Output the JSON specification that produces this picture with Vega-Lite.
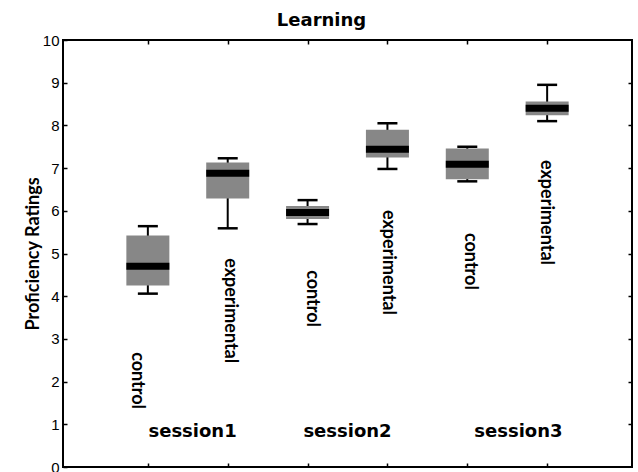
{
  "$schema": "https://vega.github.io/schema/vega-lite/v6.json",
  "width": 569,
  "height": 427,
  "autosize": "none",
  "padding": {"left": 63, "top": 40, "right": 6, "bottom": 5},
  "background": "white",
  "config": {
    "view": {"stroke": "black", "strokeWidth": 2},
    "axis": {"grid": false, "domain": false, "tickColor": "black", "tickSize": -4, "tickWidth": 1.5, "labelFont": "Liberation Sans", "labelFontSize": 15, "labelColor": "black"}
  },
  "title": {"text": "Learning", "font": "DejaVu Sans", "fontWeight": "bold", "fontSize": 18, "color": "black", "anchor": "middle", "frame": "group", "dx": -26, "offset": 3},
  "datasets": {
    "boxes": [
      {"pos": 1, "lo": 4.06, "q1": 4.25, "med": 4.70, "q3": 5.42, "hi": 5.64},
      {"pos": 2, "lo": 5.59, "q1": 6.29, "med": 6.88, "q3": 7.13, "hi": 7.23},
      {"pos": 3, "lo": 5.69, "q1": 5.81, "med": 5.96, "q3": 6.11, "hi": 6.25},
      {"pos": 4, "lo": 6.98, "q1": 7.25, "med": 7.44, "q3": 7.90, "hi": 8.05},
      {"pos": 5, "lo": 6.69, "q1": 6.74, "med": 7.09, "q3": 7.46, "hi": 7.50},
      {"pos": 6, "lo": 8.10, "q1": 8.24, "med": 8.40, "q3": 8.56, "hi": 8.95}
    ],
    "labels": [
      {"label": "control", "x": 0.87, "y": 2.69},
      {"label": "experimental", "x": 2.03, "y": 4.89},
      {"label": "control", "x": 3.06, "y": 4.61},
      {"label": "experimental", "x": 4.01, "y": 6.02},
      {"label": "control", "x": 5.03, "y": 5.48},
      {"label": "experimental", "x": 5.98, "y": 7.19}
    ],
    "sessions": [
      {"label": "session1", "x": 1.56, "y": 0.82},
      {"label": "session2", "x": 3.50, "y": 0.82},
      {"label": "session3", "x": 5.64, "y": 0.82}
    ]
  },
  "resolve": {"axis": {"x": "independent", "y": "independent"}},
  "layer": [
    {
      "data": {"name": "boxes"},
      "mark": {"type": "rule", "color": "black", "strokeWidth": 2},
      "encoding": {
        "x": {"field": "pos", "type": "quantitative", "scale": {"domain": [0, 7], "nice": false}, "axis": {"orient": "bottom", "values": [1, 2, 3, 4, 5, 6], "labels": false, "title": null}},
        "y": {"field": "lo", "type": "quantitative", "scale": {"domain": [0, 10], "nice": false, "zero": false}, "axis": {"orient": "left", "values": [0,1,2,3,4,5,6,7,8,9,10], "labelPadding": 8, "labelBaseline": "middle", "title": "Proficiency Ratings", "titleFont": "Lato", "titleFontWeight": "bold", "titleFontSize": 18, "titleColor": "black", "titlePadding": 0}},
        "y2": {"field": "hi"}
      }
    },
    {
      "data": {"name": "boxes"},
      "mark": {"type": "bar", "color": "#878787", "width": 43, "opacity": 1},
      "encoding": {
        "x": {"field": "pos", "type": "quantitative", "axis": {"orient": "top", "values": [1, 2, 3, 4, 5, 6], "labels": false, "title": null}},
        "y": {"field": "q1", "type": "quantitative", "axis": {"orient": "right", "values": [1,2,3,4,5,6,7,8,9], "labels": false, "title": null}},
        "y2": {"field": "q3"}
      }
    },
    {
      "data": {"name": "boxes"},
      "mark": {"type": "tick", "color": "black", "opacity": 1, "orient": "horizontal", "size": 43, "thickness": 7},
      "encoding": {
        "x": {"field": "pos", "type": "quantitative", "axis": null},
        "y": {"field": "med", "type": "quantitative", "axis": null}
      }
    },
    {
      "data": {"name": "boxes"},
      "mark": {"type": "tick", "color": "black", "opacity": 1, "orient": "horizontal", "size": 20, "thickness": 2.5},
      "encoding": {
        "x": {"field": "pos", "type": "quantitative", "axis": null},
        "y": {"field": "lo", "type": "quantitative", "axis": null}
      }
    },
    {
      "data": {"name": "boxes"},
      "mark": {"type": "tick", "color": "black", "opacity": 1, "orient": "horizontal", "size": 20, "thickness": 2.5},
      "encoding": {
        "x": {"field": "pos", "type": "quantitative", "axis": null},
        "y": {"field": "hi", "type": "quantitative", "axis": null}
      }
    },
    {
      "data": {"name": "labels"},
      "mark": {"type": "text", "angle": 90, "align": "left", "baseline": "middle", "font": "Lato", "fontWeight": "bold", "fontSize": 18, "color": "black"},
      "encoding": {
        "x": {"field": "x", "type": "quantitative", "axis": null},
        "y": {"field": "y", "type": "quantitative", "axis": null},
        "text": {"field": "label"}
      }
    },
    {
      "data": {"name": "sessions"},
      "mark": {"type": "text", "align": "center", "baseline": "middle", "font": "DejaVu Sans", "fontWeight": "bold", "fontSize": 18, "color": "black"},
      "encoding": {
        "x": {"field": "x", "type": "quantitative", "axis": null},
        "y": {"field": "y", "type": "quantitative", "axis": null},
        "text": {"field": "label"}
      }
    }
  ]
}
